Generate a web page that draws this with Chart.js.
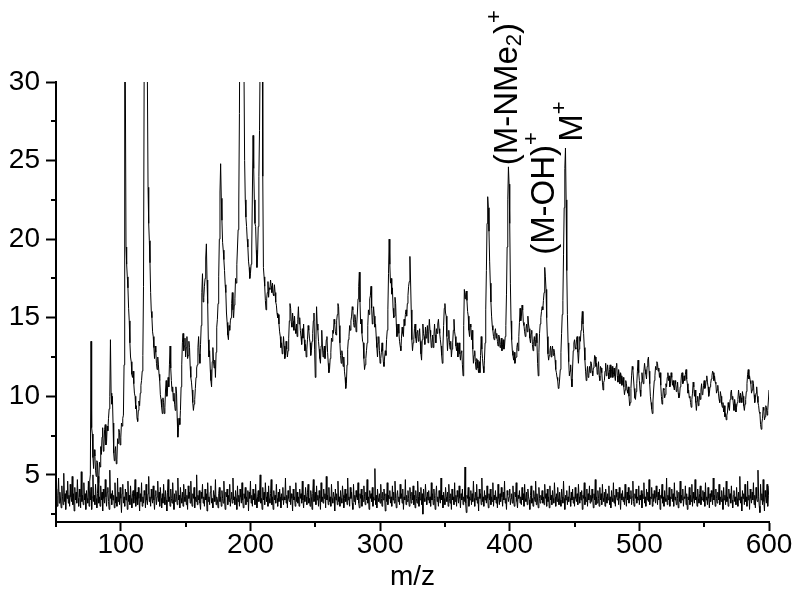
<!DOCTYPE html>
<html lang="en">
<head>
<meta charset="UTF-8" />
<title>Mass spectrum</title>
<script src="https://cdn.jsdelivr.net/npm/chart.js"></script>
<style>
  html, body { margin: 0; padding: 0; background: #fff; }
</style>
</head>
<body>
<canvas id="grafica" width="800" height="593"></canvas>
<script>
// axis ranges and ticks
const mzMin = 50, mzMax = 600;
const yMin = 2, yMax = 30;
const xStep = 100, xMinorTicks = [50, 150, 250, 350, 450, 550];
const yStep = 5, yMinorTicks = [2.5, 7.5, 12.5, 17.5, 22.5, 27.5];

// sample spectrum, one point per half m/z from 75
const specStart = 75, specStep = 0.5;
const spectrum = [
  4.2, 3.9, 4.6, 5.0, 13.5, 8.0, 7.6, 6.1, 5.4, 6.6, 6.2, 5.3, 4.9, 5.9, 5.8, 4.5, 4.7, 5.8, 5.5, 6.8,
  6.3, 7.4, 8.0, 6.5, 6.8, 7.9, 8.2, 6.9, 7.1, 8.1, 7.8, 8.6, 9.2, 10.0, 13.6, 10.2, 9.5, 10.0, 8.3, 6.4,
  5.9, 6.5, 6.8, 5.7, 6.0, 7.3, 7.0, 7.9, 7.7, 6.9, 7.4, 8.3, 8.1, 8.6, 8.8, 12, 44, 30, 19.5, 18.4,
  17.6, 16.9, 15.6, 14.8, 13.4, 12.5, 12.2, 11.4, 11.2, 11.6, 10.8, 10.2, 10.0, 9.2, 9.4, 8.6, 8.4, 9.1, 9.7, 9.4,
  10.2, 10.7, 11.0, 11.6, 12.6, 17, 30.5, 42, 46, 47, 40, 30, 23.3, 21.0, 19.9, 18.5, 16.6, 15.4, 15.0, 14.1,
  13.8, 13.1, 12.4, 13.2, 12.8, 12.1, 11.7, 12.5, 12.0, 11.4, 11.0, 10.1, 9.8, 9.3, 8.9, 9.9, 9.6, 8.9, 9.3, 10.4,
  11.0, 10.0, 10.4, 11.2, 10.6, 12.0, 13.2, 11.8, 11.0, 10.3, 10.6, 9.7, 10.2, 9.5, 9.1, 10.6, 10.2, 8.6, 7.4, 8.0,
  8.6, 8.2, 9.1, 10.6, 12.0, 13.4, 14.0, 12.9, 13.2, 13.7, 12.5, 13.1, 13.8, 12.4, 12.6, 13.5, 13.1, 11.9, 11.2, 10.9,
  10.4, 9.6, 9.1, 9.5, 9.8, 10.5, 11.2, 11.8, 12.0, 13.1, 13.8, 12.7, 12.1, 13.3, 14.5, 16.6, 17.8, 16.0, 16.3, 17.0,
  17.5, 18.8, 19.7, 17.4, 15.9, 13.6, 12.5, 12.9, 11.7, 11.0, 10.6, 12.2, 13.1, 12.2, 11.8, 12.3, 11.2, 12.8, 14.4, 14.9,
  15.9, 17.6, 20.0, 23.0, 24.8, 22.6, 21.2, 19.8, 19.3, 18.7, 18.0, 17.1, 16.6, 15.3, 14.7, 13.9, 13.6, 14.5, 14.2, 14.8,
  15.0, 15.9, 16.6, 15.5, 15.0, 15.8, 16.2, 17.5, 17.2, 18.4, 19.5, 20.6, 22.3, 28, 38, 45, 48, 48, 45, 40,
  31, 25, 22.5, 21.4, 20.8, 20.0, 19.5, 18.6, 18.2, 17.5, 17.8, 18.4, 19.5, 23.0, 26.6, 24.5, 22.5, 21.0, 20.8, 19.3,
  18.2, 19.0, 20.8, 24.0, 26.9, 32, 40, 42, 36, 24, 18.2, 17.6, 17.0, 16.1, 15.5, 16.2, 16.6, 17.3, 16.3, 16.9,
  16.8, 17.4, 17.0, 16.6, 17.2, 16.5, 16.4, 17.1, 16.6, 16.0, 15.8, 15.3, 15.0, 15.2, 14.6, 14.1, 13.8, 13.1, 13.4, 12.7,
  13.0, 13.8, 13.2, 12.4, 12.6, 13.5, 13.0, 12.5, 12.9, 13.7, 14.8, 15.9, 15.6, 14.7, 14.4, 15.3, 14.8, 14.2, 15.1, 14.3,
  14.0, 14.6, 13.8, 14.9, 15.7, 14.6, 15.0, 14.2, 13.8, 13.3, 14.3, 13.7, 14.6, 13.6, 12.9, 13.3, 12.5, 13.0, 13.6, 14.5,
  14.2, 13.7, 13.4, 12.6, 12.9, 13.5, 14.0, 14.8, 15.3, 13.0, 11.2, 13.6, 15.7, 14.6, 14.2, 13.5, 13.0, 12.4, 12.1, 13.2,
  14.2, 13.2, 12.5, 12.9, 13.2, 12.4, 12.9, 13.6, 13.8, 12.8, 12.1, 11.5, 11.7, 12.4, 12.8, 13.7, 13.5, 14.2, 14.0, 14.9,
  14.6, 14.1, 13.9, 14.8, 15.2, 15.9, 15.7, 14.5, 13.4, 12.6, 12.1, 12.9, 12.6, 11.9, 12.5, 11.6, 11.2, 10.5, 10.8, 12.0,
  13.0, 13.6, 13.8, 14.5, 14.2, 14.8, 15.1, 15.7, 15.5, 14.7, 14.4, 15.2, 14.9, 14.1, 14.6, 15.3, 16.2, 17.0, 17.9, 16.0,
  14.6, 14.9, 14.0, 13.5, 13.4, 12.4, 11.7, 12.0, 12.4, 12.9, 13.4, 14.5, 15.5, 15.2, 16.2, 16.4, 17.0, 15.6, 14.6, 15.0,
  15.7, 15.1, 14.4, 14.6, 13.8, 13.1, 12.5, 13.4, 13.8, 12.9, 12.1, 12.4, 12.8, 13.4, 12.9, 12.2, 11.9, 12.5, 12.9, 12.6,
  13.6, 14.2, 15.5, 17.8, 20.0, 18.4, 17.2, 17.5, 16.5, 16.9, 15.6, 15.0, 15.1, 16.3, 15.9, 14.6, 13.8, 14.2, 14.6, 14.0,
  13.5, 13.2, 12.9, 13.7, 14.4, 14.0, 13.8, 14.9, 14.5, 15.2, 15.5, 15.1, 15.9, 16.4, 17.0, 17.3, 18.9, 17.4, 15.5, 13.6,
  12.9, 13.4, 13.6, 14.3, 14.6, 13.7, 13.4, 14.1, 14.2, 13.5, 13.8, 14.3, 13.5, 12.7, 12.3, 13.6, 14.6, 14.0, 13.8, 13.3,
  14.4, 13.7, 14.0, 14.5, 13.4, 14.1, 14.9, 14.2, 13.8, 13.1, 13.4, 13.9, 13.1, 13.8, 14.6, 13.9, 13.4, 14.3, 14.0, 14.6,
  14.9, 14.3, 14.0, 13.6, 13.2, 12.6, 12.1, 13.2, 14.5, 15.6, 15.9, 15.3, 15.1, 13.8, 12.9, 13.7, 14.2, 13.4, 13.0, 13.5,
  12.5, 13.0, 13.4, 14.2, 14.9, 14.1, 13.8, 13.2, 12.9, 13.4, 12.5, 13.0, 13.4, 12.7, 12.3, 12.8, 12.9, 12.0, 11.3, 14.5,
  16.8, 16.2, 16.5, 16.7, 16.1, 15.4, 15.1, 14.2, 13.8, 14.6, 14.4, 13.6, 14.2, 13.0, 12.1, 12.6, 12.9, 12.2, 11.7, 12.4,
  12.3, 11.8, 11.5, 12.2, 11.5, 12.6, 13.8, 13.0, 12.4, 11.9, 11.5, 12.3, 13.4, 15.5, 18.0, 21.0, 22.7, 22.0, 20.5, 18.6,
  17.2, 16.0, 15.1, 14.5, 14.2, 13.8, 13.6, 14.1, 14.3, 13.7, 14.0, 13.5, 13.2, 13.9, 13.8, 13.1, 13.3, 13.7, 12.9, 13.3,
  13.6, 13.0, 13.2, 13.8, 14.5, 16.5, 19.5, 22.5, 24.6, 23.5, 21.0, 17.2, 14.8, 13.6, 12.9, 12.6, 12.3, 12.8, 12.1, 12.4,
  12.5, 13.1, 13.4, 12.9, 13.8, 14.7, 15.6, 14.8, 15.1, 15.8, 15.5, 14.7, 14.5, 14.1, 13.8, 14.3, 14.6, 14.1, 15.1, 14.6,
  14.3, 13.7, 13.4, 14.0, 14.2, 13.3, 12.9, 13.5, 13.8, 13.2, 13.6, 14.0, 13.4, 12.1, 11.3, 12.8, 14.0, 14.6, 15.0, 15.4,
  15.7, 15.5, 16.1, 16.6, 18.2, 17.6, 16.8, 15.0, 13.8, 12.7, 12.3, 12.6, 12.9, 13.2, 12.5, 12.9, 13.2, 12.6, 13.0, 12.8,
  12.3, 11.7, 11.5, 11.2, 11.0, 10.5, 10.6, 11.1, 11.7, 12.8, 14.0, 15.2, 16.1, 19.0, 22.0, 24.5, 25.8, 22.5, 18.0, 15.2,
  13.4, 12.2, 11.3, 11.6, 12.0, 11.1, 10.6, 11.8, 12.9, 13.4, 13.6, 13.1, 13.0, 13.6, 13.8, 12.8, 12.1, 13.0, 13.8, 13.5,
  14.2, 14.8, 15.4, 14.6, 14.0, 13.1, 12.3, 11.6, 11.0, 11.5, 11.9, 11.2, 11.3, 11.9, 11.5, 12.2, 12.1, 11.6, 11.3, 11.8,
  12.0, 12.6, 12.5, 11.9, 12.1, 11.4, 11.7, 12.2, 11.3, 11.0, 11.9, 11.8, 11.5, 10.9, 10.4, 10.9, 11.0, 11.6, 12.1, 11.3,
  11.6, 12.0, 11.5, 11.1, 11.7, 12.0, 11.2, 11.6, 11.9, 11.2, 11.4, 11.8, 11.3, 11.0, 11.9, 12.1, 11.3, 10.9, 11.7, 11.4,
  10.8, 11.5, 11.3, 10.7, 10.9, 11.2, 10.6, 10.1, 10.4, 11.0, 10.8, 10.4, 10.2, 10.6, 10.0, 9.4, 9.6, 10.5, 11.3, 11.9,
  11.7, 11.1, 10.5, 9.9, 9.8, 10.3, 10.8, 11.6, 12.3, 11.5, 11.0, 10.4, 10.0, 10.9, 11.5, 11.1, 10.8, 11.6, 12.1, 11.7,
  11.4, 11.1, 11.9, 12.3, 12.5, 11.6, 10.8, 10.0, 9.6, 9.2, 8.9, 9.7, 10.4, 11.0, 11.3, 11.9, 11.7, 12.2, 12.1, 11.6,
  11.8, 11.2, 11.5, 10.7, 10.0, 9.5, 9.8, 10.5, 10.4, 9.9, 10.1, 10.8, 10.6, 11.2, 11.5, 11.0, 11.3, 10.6, 10.8, 11.5,
  11.2, 10.7, 11.0, 10.6, 10.4, 11.0, 10.8, 10.3, 10.5, 10.9, 10.2, 9.9, 10.0, 10.6, 10.8, 11.4, 11.5, 10.8, 10.9, 11.3,
  11.0, 11.4, 11.7, 11.1, 10.8, 10.2, 10.4, 9.9, 10.0, 9.6, 9.3, 9.8, 10.2, 10.9, 10.6, 10.0, 10.4, 9.6, 9.1, 9.7,
  10.0, 9.4, 9.6, 10.2, 9.8, 10.4, 10.8, 10.1, 10.2, 10.7, 11.0, 10.5, 10.6, 11.0, 11.3, 10.9, 10.6, 10.0, 10.2, 10.6,
  10.8, 11.1, 11.3, 11.6, 11.5, 11.0, 11.3, 10.9, 10.8, 10.2, 10.4, 10.7, 10.2, 9.8, 9.6, 10.3, 10.0, 9.5, 9.3, 9.6,
  9.0, 9.4, 8.7, 8.9, 8.5, 8.8, 9.0, 9.6, 9.3, 9.1, 9.8, 10.2, 10.4, 9.8, 10.0, 9.5, 9.1, 9.8, 9.5, 9.0,
  9.3, 9.6, 9.8, 10.4, 10.0, 9.6, 10.2, 9.9, 9.6, 10.3, 10.0, 9.4, 9.1, 9.5, 9.8, 10.3, 10.8, 11.4, 11.7, 11.1,
  11.3, 11.0, 10.8, 10.2, 10.4, 11.0, 10.8, 10.1, 9.6, 9.9, 10.2, 10.6, 10.0, 9.6, 9.4, 9.0, 8.9, 8.2, 7.9, 8.3,
  8.6, 9.3, 9.1, 8.5, 8.7, 9.4, 9.3, 8.8, 9.1, 9.7, 10.4
];

// blank run, one point per half m/z from 50
const blankStart = 50, blankStep = 0.5;
const blank = [
  3.5, 4.1, 3.0, 3.7, 4.8, 3.2, 3.9, 3.4, 2.9, 4.3, 3.6, 3.1, 5.1, 3.3, 3.8, 2.8, 4.0, 3.5, 4.6, 3.2, 3.7, 3.0, 4.4, 3.6, 3.3,
  4.9, 3.1, 3.8, 2.7, 4.2, 3.4, 3.9, 3.2, 4.7, 3.5, 3.0, 4.1, 3.6, 2.9, 5.2, 3.3, 3.7, 3.1, 4.5, 3.4, 3.8, 2.8, 4.0, 3.5, 3.2,
  4.6, 3.0, 3.9, 3.4, 4.2, 2.8, 3.6, 5.0, 3.3, 3.7, 3.1, 4.4, 3.5, 2.9, 3.8, 4.9, 3.2, 3.6, 3.0, 4.3, 3.4, 3.9, 2.7, 4.1, 3.5,
  3.2, 4.7, 3.6, 3.0, 3.9, 4.2, 3.3, 2.8, 5.3, 3.5, 3.8, 3.1, 4.0, 3.4, 3.7, 2.9, 4.5, 3.2, 3.6, 3.0, 4.8, 3.3, 3.9, 3.1, 4.2,
  3.5, 2.6, 3.8, 4.4, 3.2, 3.6, 3.0, 4.1, 3.4, 3.9, 2.8, 4.6, 3.3, 3.7, 3.1, 4.3, 3.5, 2.9, 3.8, 4.0, 3.2, 3.6, 4.7, 3.0, 3.4,
  3.9, 3.1, 4.2, 3.5, 2.7, 3.8, 3.3, 4.5, 3.0, 3.6, 3.2, 4.0, 3.7, 2.9, 4.4, 3.4, 3.1, 3.8, 4.9, 3.3, 3.6, 3.0, 4.1, 3.5, 3.2,
  4.3, 3.4, 2.8, 3.7, 4.0, 3.1, 3.6, 4.6, 3.3, 3.9, 3.0, 4.2, 3.5, 2.9, 3.8, 3.2, 4.4, 3.6, 3.1, 4.0, 3.4, 2.7, 3.9, 4.7, 3.3,
  3.6, 3.0, 4.1, 3.5, 3.2, 4.5, 3.4, 2.8, 3.8, 3.3, 4.0, 3.6, 3.1, 4.8, 3.4, 3.7, 2.9, 4.2, 3.5, 3.2, 3.9, 3.0, 4.4, 3.6, 3.3,
  4.1, 3.1, 3.7, 2.8, 4.3, 3.5, 3.9, 3.2, 4.6, 3.4, 3.0, 3.8, 3.5, 4.2, 2.9, 3.6, 3.3, 5.0, 3.1, 3.7, 3.4, 4.0, 3.2, 2.8, 3.9,
  3.5, 4.4, 3.2, 3.6, 3.0, 4.1, 3.4, 3.8, 2.7, 4.5, 3.3, 3.6, 3.1, 3.9, 4.3, 3.2, 3.5, 2.9, 4.0, 3.7, 3.3, 4.7, 3.1, 3.6, 3.4,
  2.9, 3.8, 4.2, 3.3, 3.6, 3.0, 4.0, 3.5, 3.2, 4.6, 3.4, 2.8, 3.9, 3.6, 4.1, 3.1, 3.7, 3.3, 4.4, 3.0, 3.5, 3.9, 3.2, 4.8, 3.4,
  3.6, 3.1, 4.0, 3.5, 2.8, 4.3, 3.3, 3.7, 3.0, 4.1, 3.6, 3.2, 4.5, 3.4, 2.9, 3.8, 3.5, 4.2, 3.1, 3.6, 3.3, 4.0, 2.7, 3.9, 3.5,
  4.6, 3.2, 3.7, 3.0, 4.1, 3.4, 3.8, 3.1, 4.4, 3.5, 2.9, 3.6, 4.0, 3.3, 3.7, 5.0, 3.2, 3.5, 2.8, 4.2, 3.4, 3.9, 3.1, 4.5, 3.6,
  3.3, 3.9, 3.0, 4.3, 3.5, 3.2, 3.8, 4.7, 3.1, 3.6, 2.8, 4.0, 3.4, 3.7, 3.2, 4.4, 3.5, 3.0, 3.9, 3.3, 4.1, 3.6, 2.9, 3.8, 3.4,
  4.2, 3.1, 3.6, 3.4, 4.8, 3.2, 3.7, 2.9, 4.0, 3.5, 3.3, 4.3, 3.1, 3.8, 3.5, 2.7, 4.1, 3.4, 3.6, 3.0, 4.5, 3.3, 3.9, 3.2, 3.6,
  3.0, 4.1, 3.5, 3.8, 3.2, 4.6, 3.4, 2.9, 3.7, 3.3, 4.2, 3.6, 3.1, 3.9, 4.4, 3.2, 3.5, 3.0, 4.0, 3.6, 2.8, 3.8, 4.7, 3.3, 3.5,
  3.9, 3.1, 4.3, 3.4, 3.7, 3.0, 4.0, 3.5, 2.8, 4.5, 3.3, 3.6, 3.2, 4.1, 3.5, 3.8, 2.9, 4.9, 3.4, 3.7, 3.1, 4.2, 3.3, 3.6, 3.0,
  4.4, 3.5, 3.2, 3.9, 3.6, 2.7, 4.1, 3.4, 3.8, 3.1, 4.6, 3.3, 3.6, 3.0, 4.0, 3.5, 3.2, 4.3, 3.7, 2.9, 3.5, 4.1, 3.3, 3.8, 3.1,
  4.8, 3.4, 3.6, 3.0, 4.2, 3.5, 3.9, 3.2, 2.8, 4.4, 3.3, 3.7, 3.1, 4.0, 3.6, 3.4, 4.5, 3.2, 2.9, 3.8, 3.5, 4.1, 3.0, 3.7, 3.3,
  4.3, 3.6, 3.1, 3.9, 3.4, 4.7, 3.2, 3.6, 2.8, 4.0, 3.5, 3.8, 3.3, 4.2, 3.0, 3.6, 3.4, 5.4, 3.1, 3.7, 2.9, 4.1, 3.5, 3.3, 3.8,
  3.2, 4.4, 3.5, 3.0, 3.9, 3.4, 4.1, 3.6, 2.7, 3.8, 3.3, 4.5, 3.1, 3.7, 3.5, 4.0, 3.2, 3.6, 3.0, 4.3, 3.4, 3.9, 3.2, 4.6, 3.5,
  2.9, 3.7, 4.0, 3.3, 3.6, 3.1, 4.4, 3.5, 3.8, 3.2, 4.1, 2.8, 3.6, 3.4, 4.7, 3.1, 3.7, 3.3, 4.0, 3.5, 3.0, 4.2, 3.6, 3.2, 3.9,
  3.4, 4.3, 3.1, 3.7, 2.9, 4.0, 3.5, 3.2, 4.6, 3.6, 3.0, 3.9, 3.4, 4.2, 3.1, 3.8, 2.5, 4.1, 3.5, 3.3, 4.4, 3.6, 3.1, 3.9, 3.4,
  4.0, 3.2, 3.6, 3.0, 4.5, 3.4, 3.8, 3.1, 4.1, 3.5, 2.8, 3.7, 4.3, 3.3, 3.6, 3.0, 4.0, 3.5, 3.2, 4.8, 3.4, 3.7, 2.9, 3.9, 3.5,
  3.1, 4.2, 3.6, 3.3, 3.9, 3.0, 4.4, 3.5, 3.2, 3.8, 2.8, 4.1, 3.4, 3.6, 3.1, 4.5, 3.3, 3.7, 3.0, 4.0, 3.6, 3.2, 4.3, 3.5, 2.9,
  3.8, 3.4, 4.1, 3.1, 3.6, 3.3, 5.5, 3.2, 2.6, 3.7, 3.5, 4.2, 3.0, 3.6, 3.4, 4.0, 3.1, 3.8, 3.3, 4.6, 3.5, 3.0, 3.9, 3.4, 4.4,
  3.2, 3.6, 2.7, 4.1, 3.5, 3.8, 3.1, 4.8, 3.3, 3.6, 3.0, 4.0, 3.4, 3.7, 3.2, 4.3, 3.5, 2.9, 3.8, 3.4, 4.1, 3.1, 3.6, 3.3, 4.5,
  3.0, 3.7, 3.4, 4.0, 3.2, 3.6, 2.9, 4.4, 3.5, 3.1, 3.8, 3.3, 4.2, 3.6, 3.0, 3.9, 3.4, 4.6, 3.2, 3.5, 2.8, 4.0, 3.7, 3.3, 3.6,
  4.1, 3.1, 3.5, 3.8, 3.2, 4.3, 3.4, 3.0, 3.9, 3.6, 4.5, 3.3, 2.9, 3.7, 3.5, 4.0, 3.2, 3.6, 3.1, 4.2, 3.4, 3.8, 3.0, 4.4, 3.5,
  3.3, 3.9, 3.1, 4.1, 3.6, 3.4, 2.8, 3.7, 4.3, 3.2, 3.5, 3.0, 4.0, 3.6, 3.3, 4.6, 3.1, 3.8, 3.4, 2.9, 4.2, 3.5, 3.2, 3.7, 3.4,
  4.0, 3.2, 3.6, 3.1, 4.4, 3.5, 3.8, 3.0, 4.1, 3.3, 3.6, 2.9, 4.3, 3.4, 3.7, 3.1, 4.0, 3.5, 3.2, 4.5, 3.6, 3.0, 3.8, 3.3, 4.2,
  3.5, 3.1, 3.9, 3.4, 3.0, 4.1, 3.6, 3.2, 4.6, 3.5, 2.8, 3.7, 3.4, 4.0, 3.1, 3.6, 3.3, 4.3, 3.5, 3.0, 3.9, 3.4, 4.1, 3.2, 3.6,
  3.0, 4.2, 3.5, 3.3, 3.8, 3.1, 4.4, 3.6, 3.2, 3.9, 3.4, 4.0, 2.8, 3.7, 3.5, 4.5, 3.1, 3.6, 3.3, 4.1, 3.0, 3.8, 3.4, 4.3, 3.2,
  3.7, 3.3, 4.1, 3.5, 2.9, 3.8, 3.4, 4.7, 3.1, 3.6, 3.2, 4.0, 3.5, 3.0, 4.2, 3.4, 3.8, 3.1, 4.4, 3.5, 3.3, 3.9, 3.0, 4.1, 3.6,
  3.2, 3.8, 3.4, 4.3, 3.1, 3.6, 2.9, 4.0, 3.5, 3.3, 4.5, 3.2, 3.7, 3.0, 4.1, 3.6, 3.4, 3.9, 3.1, 4.2, 3.5, 2.8, 3.8, 3.4, 4.0,
  3.3, 3.6, 3.1, 4.4, 3.5, 3.0, 3.9, 3.4, 4.2, 3.2, 3.7, 3.5, 4.0, 3.1, 3.6, 4.6, 3.3, 3.0, 3.8, 3.5, 4.1, 3.2, 3.6, 3.4, 4.3,
  3.1, 3.7, 3.4, 4.0, 2.9, 3.8, 3.5, 4.5, 3.2, 3.6, 3.0, 4.1, 3.4, 3.9, 3.3, 4.7, 3.1, 3.6, 3.5, 4.2, 3.0, 3.8, 3.3, 4.0, 3.5,
  3.2, 4.3, 3.6, 3.1, 3.9, 3.4, 4.1, 2.8, 3.7, 3.5, 4.4, 3.2, 3.6, 3.0, 4.0, 3.5, 3.3, 4.8, 3.1, 3.7, 3.4, 4.2, 3.0, 3.6, 3.5,
  4.1, 3.3, 3.8, 3.0, 4.5, 3.4, 3.6, 3.1, 4.0, 3.5, 2.9, 3.9, 3.3, 4.6, 3.2, 3.7, 3.4, 4.1, 3.0, 3.6, 3.5, 4.3, 3.1, 3.8, 2.8,
  3.6, 3.4, 4.2, 3.1, 3.7, 3.3, 4.4, 3.0, 3.9, 3.5, 3.2, 4.7, 3.4, 3.6, 3.0, 4.1, 3.5, 3.2, 3.8, 4.3, 3.1, 3.6, 3.4, 4.0, 3.3,
  3.9, 3.0, 4.5, 3.4, 3.6, 3.1, 4.2, 3.5, 2.9, 3.8, 3.3, 4.0, 3.6, 3.1, 4.8, 3.4, 3.7, 3.0, 4.1, 3.5, 3.2, 3.9, 3.4, 4.4, 3.1,
  3.6, 3.3, 4.0, 3.5, 2.8, 4.2, 3.4, 3.7, 3.1, 4.6, 3.3, 3.6, 3.0, 4.1, 3.5, 3.8, 3.2, 4.3, 3.4, 2.9, 3.7, 4.0, 3.3, 3.6, 3.1,
  4.2, 3.5, 3.0, 3.9, 3.4, 4.9, 3.2, 3.6, 2.7, 4.0, 3.5, 3.8, 3.1, 4.4, 3.3, 3.6, 3.0, 4.6, 3.4, 3.7, 2.8, 4.1, 3.5, 3.2, 3.9,
  3.4, 4.5, 3.1, 3.7, 2.9, 4.2, 3.5, 3.3, 5.3, 3.6, 3.0, 2.6, 4.4, 3.4, 3.8, 3.1, 4.7, 3.3, 2.7, 4.0, 3.6, 3.2, 4.4, 3.0, 3.7,
  4.3
];

// peak labels: text pieces (0 normal, -1 subscript, 1 superscript)
const peakLabels = [
  [["(M-NMe", 0], ["2", -1], [")", 0], ["+", 1]],
  [["(M-OH)", 0], ["+", 1]],
  [["M", 0], ["+", 1]]
];
const labelMz = [405.6, 434.5, 455.5];   // text baseline
const labelStart = [24.7, 19.0, 26.2];   // where the text begins

const fontFamily = "'Liberation Sans', Arial, sans-serif";
Chart.defaults.font.family = fontFamily;
Chart.defaults.color = '#000';

function toPoints(start, step, values) {
  return values.map((v, i) => ({ x: start + i * step, y: v }));
}

// minor ticks and rotated peak labels
const extras = {
  id: 'extras',
  afterDraw(chart) {
    const { ctx, scales: { x, y } } = chart;
    ctx.save();
    ctx.strokeStyle = '#000';
    ctx.lineWidth = 2;
    ctx.beginPath();
    xMinorTicks.forEach(v => {
      const px = Math.round(x.getPixelForValue(v));
      ctx.moveTo(px, y.bottom);
      ctx.lineTo(px, y.bottom + 5);
    });
    yMinorTicks.forEach(v => {
      const py = Math.round(y.getPixelForValue(v));
      ctx.moveTo(x.left, py);
      ctx.lineTo(x.left - 5, py);
    });
    ctx.stroke();

    const size = 33;
    ctx.fillStyle = '#000';
    ctx.textBaseline = 'alphabetic';
    peakLabels.forEach((parts, i) => {
      ctx.save();
      ctx.translate(x.getPixelForValue(labelMz[i]), y.getPixelForValue(labelStart[i]));
      ctx.rotate(-Math.PI / 2);
      let pos = 0;
      parts.forEach(([txt, kind]) => {
        const s = kind === 0 ? size : Math.round(size * 0.68);
        ctx.font = s + 'px ' + fontFamily;
        const dy = kind === -1 ? 4 : kind === 1 ? -16 : 0;
        ctx.fillText(txt, pos, dy);
        pos += ctx.measureText(txt).width;
      });
      ctx.restore();
    });
    ctx.restore();
  }
};

new Chart(document.getElementById('grafica'), {
  type: 'line',
  data: {
    datasets: [
      {
        data: toPoints(blankStart, blankStep, blank),
        borderColor: '#000',
        borderWidth: 1,
        pointRadius: 0,
        tension: 0
      },
      {
        data: toPoints(specStart, specStep, spectrum),
        borderColor: '#000',
        borderWidth: 1,
        pointRadius: 0,
        tension: 0
      }
    ]
  },
  options: {
    responsive: false,
    animation: false,
    layout: { padding: { top: 82, right: 31, left: 0, bottom: 0 } },
    plugins: { legend: { display: false }, tooltip: { enabled: false } },
    scales: {
      x: {
        type: 'linear',
        min: mzMin,
        max: mzMax,
        afterFit: s => { s.height = 71; },
        border: { display: true, color: '#000', width: 2 },
        grid: { drawOnChartArea: false, drawTicks: true, tickLength: 9, tickColor: '#000', tickWidth: 2 },
        ticks: {
          stepSize: xStep,
          includeBounds: false,
          maxRotation: 0,
          padding: 0,
          font: { size: 28, lineHeight: 1 }
        },
        title: {
          display: true,
          text: 'm/z',
          font: { size: 28, lineHeight: 1 },
          padding: { top: 0, bottom: 2 }
        }
      },
      y: {
        min: yMin,
        max: yMax,
        afterFit: s => { s.width = 56; },
        border: { display: true, color: '#000', width: 2 },
        grid: { drawOnChartArea: false, drawTicks: true, tickLength: 10, tickColor: '#000', tickWidth: 2 },
        ticks: {
          stepSize: yStep,
          includeBounds: false,
          padding: 6,
          font: { size: 28, lineHeight: 1 }
        }
      }
    }
  },
  plugins: [extras]
});
</script>
</body>
</html>
